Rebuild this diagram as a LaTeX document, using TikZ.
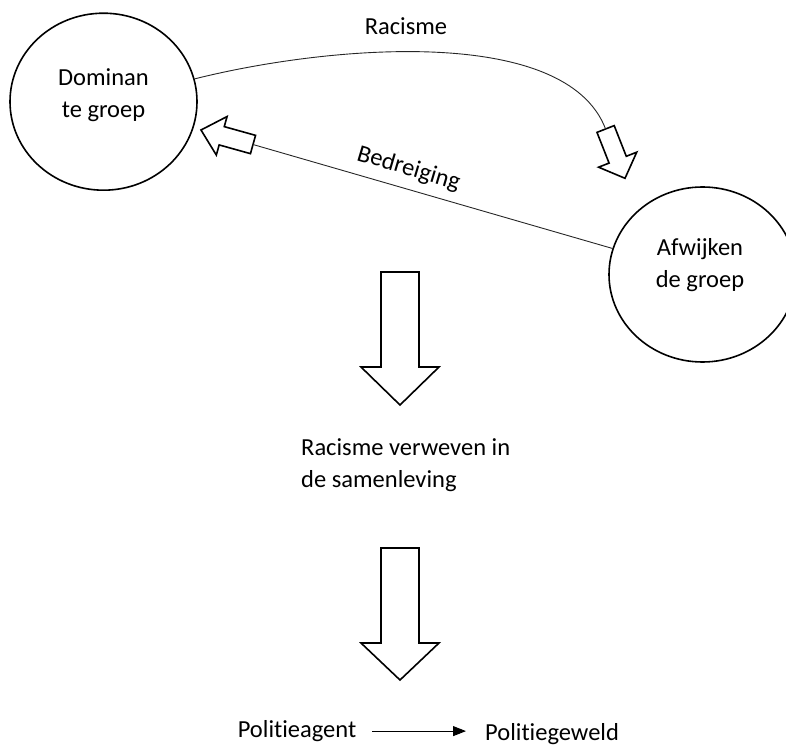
\documentclass[tikz,border=0pt]{standalone}
\usepackage{fontspec}
\setmainfont[Ligatures=NoCommon]{Carlito}
\usetikzlibrary{shapes.geometric,arrows.meta}
\tikzset{
  groep/.style={draw,ellipse,line width=1.6pt,minimum width=187pt,minimum height=177pt,inner sep=0pt},
  txt/.style={inner sep=0pt,font=\fontsize{24.5}{32}\selectfont},
  link/.style={line width=0.9pt,black!85},
  pics/fatarrow/.style n args={4}{code={
    \draw[line width=1.6pt,line join=miter,fill=white] (0,0) -- (-#2,#4/2) -- (-#2,#3/2) -- (-#1,#3/2) -- (-#1,-#3/2) -- (-#2,-#3/2) -- (-#2,-#4/2) -- cycle;
    \coordinate (-tail) at (-#1,0);
  }}
}
\begin{document}
\begin{tikzpicture}[x=1pt,y=1pt,line cap=round,line join=round,>=stealth]
	\useasboundingbox (0,0) rectangle (786,745);
	\clip (0,0) rectangle (786,745);
	% de twee groepen
	\node[groep] (dom) at (103.5,643.3) {};
	\node[groep,minimum height=175pt] (afw) at (702.5,470.5) {};
	\node[txt,align=center] (domtxt) at (103.5,650) {Dominan\\te groep};
	\node[txt,align=center] (afwtxt) at (700,479.5) {Afwijken\\de groep};
	% kleine pijlen
	\pic[rotate=-68.5] (rac) at (625,566.7) {fatarrow={53}{20}{18.5}{41}};
	\pic[rotate=164.4] (bed) at (201,615) {fatarrow={54}{21.5}{19}{40}};
	\draw[link] (dom) .. controls (330,700) and (566,720) .. (rac-tail);
	\draw[link] (afw) -- (bed-tail);
	\node[txt,anchor=base] (raclabel) at (406,710) {Racisme};
	\node[txt,rotate=-16.5] (bedlabel) at (408.6,576) {Bedreiging};
	% grote pijlen
	\pic[rotate=-90] (big1) at (400,340) {fatarrow={133}{38}{38}{78}};
	\node[txt,align=left,anchor=west] (mid) at (301,279.5) {Racisme verweven in\\de samenleving};
	\pic[rotate=-90] (big2) at (400,65) {fatarrow={132}{37}{38}{78}};
	% onderste regel
	\node[txt,anchor=base west] (agent) at (237.6,7.5) {Politieagent};
	\node[txt,anchor=base west] (geweld) at (485,5) {Politiegeweld};
	\draw[-{Triangle[length=13pt,width=10pt]},line width=0.9pt,shorten <=16pt,shorten >=19pt] (agent.east) -- (agent.east -| geweld.west);
\end{tikzpicture}
\end{document}
